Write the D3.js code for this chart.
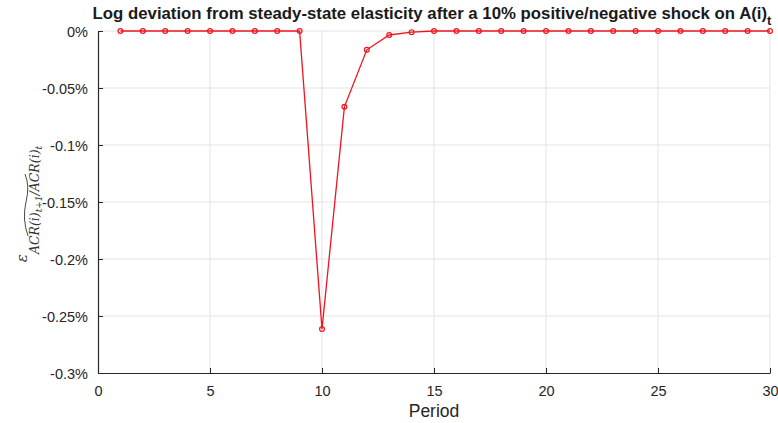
<!DOCTYPE html>
<html>
<head>
<meta charset="utf-8">
<script src="https://cdn.jsdelivr.net/npm/d3@7"></script>
<style>
  body { margin: 0; background: #fff; }
  svg { display: block; font-family: 'Liberation Sans', Arial, sans-serif; }
</style>
</head>
<body>
<svg width="778" height="423"></svg>
<script>
// Data (log deviation, in %)
const periods = d3.range(1, 31);
const deviation = [0, 0, 0, 0, 0, 0, 0, 0, 0, -0.2615, -0.0665, -0.0165, -0.0035, -0.001,
  0, 0, 0, 0, 0, 0, 0, 0, 0, 0, 0, 0, 0, 0, 0, 0];
const xTicks = [0, 5, 10, 15, 20, 25, 30];
const yTicks = [0, -0.05, -0.1, -0.15, -0.2, -0.25, -0.3];
const yTickLabels = ['0%', '-0.05%', '-0.1%', '-0.15%', '-0.2%', '-0.25%', '-0.3%'];

const svg = d3.select('svg');
const margin = {top: 31, right: 8, bottom: 50, left: 98};
const width = 770 - margin.left;
const height = 373 - margin.top;
const g = svg.append('g').attr('transform', `translate(${margin.left},${margin.top})`);

const x = d3.scaleLinear().domain([0, 30]).range([0, width]);
const y = d3.scaleLinear().domain([-0.3, 0]).range([height, 0]);

// Grid
g.append('g').selectAll('line.vx')
  .data(xTicks.slice(1)).enter()
  .append('line')
  .attr('x1', d => x(d)).attr('x2', d => x(d))
  .attr('y1', 0).attr('y2', height)
  .attr('stroke', '#e3e3e3').attr('stroke-width', 1);
g.append('g').selectAll('line.hy')
  .data(yTicks.slice(0, -1)).enter()
  .append('line')
  .attr('x1', 0).attr('x2', width)
  .attr('y1', d => y(d)).attr('y2', d => y(d))
  .attr('stroke', '#e3e3e3').attr('stroke-width', 1);

// Axes
const xAxis = d3.axisBottom(x).tickValues(xTicks).tickSizeInner(-5).tickSizeOuter(0).tickPadding(10);
const yAxis = d3.axisLeft(y).tickValues(yTicks).tickFormat((d, i) => yTickLabels[i])
  .tickSizeInner(-5).tickSizeOuter(0).tickPadding(10);

const gx = g.append('g').attr('transform', `translate(0,${height})`).call(xAxis);
const gy = g.append('g').call(yAxis);
[gx, gy].forEach(a => {
  a.select('.domain').attr('stroke', '#262626').attr('stroke-width', 1.2);
  a.selectAll('.tick line').attr('stroke', '#262626');
  a.selectAll('.tick text').attr('fill', '#262626').style('font-size', '14.5px')
    .style('font-family', "'Liberation Sans', Arial, sans-serif");
});
gx.selectAll('.tick text').attr('dy', '0.9em');
gy.selectAll('.tick text').attr('dy', '0.35em');

// Line and markers
const pts = periods.map((p, i) => ({p, v: deviation[i]}));
const line = d3.line().x(d => x(d.p)).y(d => y(d.v));
g.append('path')
  .datum(pts)
  .attr('d', line)
  .attr('fill', 'none')
  .attr('stroke', '#f0141e')
  .attr('stroke-width', 1.3);
g.selectAll('circle')
  .data(pts).enter()
  .append('circle')
  .attr('cx', d => x(d.p)).attr('cy', d => y(d.v))
  .attr('r', 2.4)
  .attr('fill', 'none')
  .attr('stroke', '#f0141e')
  .attr('stroke-width', 1.2);

// Title
const title = svg.append('text')
  .attr('x', 432).attr('y', 19)
  .attr('text-anchor', 'middle')
  .attr('fill', '#1a1a1a')
  .style('font-size', '16.8px')
  .style('font-weight', 'bold');
title.append('tspan').text('Log deviation from steady-state elasticity after a 10% positive/negative shock on A(i)');
title.append('tspan').attr('dy', 6).style('font-size', '13px').text('t');

// X label
svg.append('text')
  .attr('x', 434).attr('y', 417)
  .attr('text-anchor', 'middle')
  .attr('fill', '#262626')
  .style('font-size', '17.5px')
  .text('Period');

// Y label (math)
const yl = svg.append('g').attr('transform', 'translate(31,204) rotate(-90)');
const ylt = yl.append('text')
  .attr('text-anchor', 'middle')
  .attr('fill', '#333')
  .style('font-family', "'DejaVu Serif', 'Liberation Serif', serif")
  .style('font-style', 'italic');
ylt.append('tspan').style('font-size', '15px').attr('dy', -4).text('ε');
ylt.append('tspan').style('font-size', '12.5px').attr('dy', 12).text('ACR(i)');
ylt.append('tspan').style('font-size', '9px').attr('dy', 3).text('t+1');
ylt.append('tspan').style('font-size', '12.5px').attr('dy', -3).text('/ACR(i)');
ylt.append('tspan').style('font-size', '9px').attr('dy', 3).text('t');
// tilde over the first ACR(i)
yl.append('path')
  .attr('d', 'M-32,-3 Q-15,-9 2,-5 Q18,-1 30,-6')
  .attr('fill', 'none')
  .attr('stroke', '#333')
  .attr('stroke-width', 0.9);
</script>
</body>
</html>
